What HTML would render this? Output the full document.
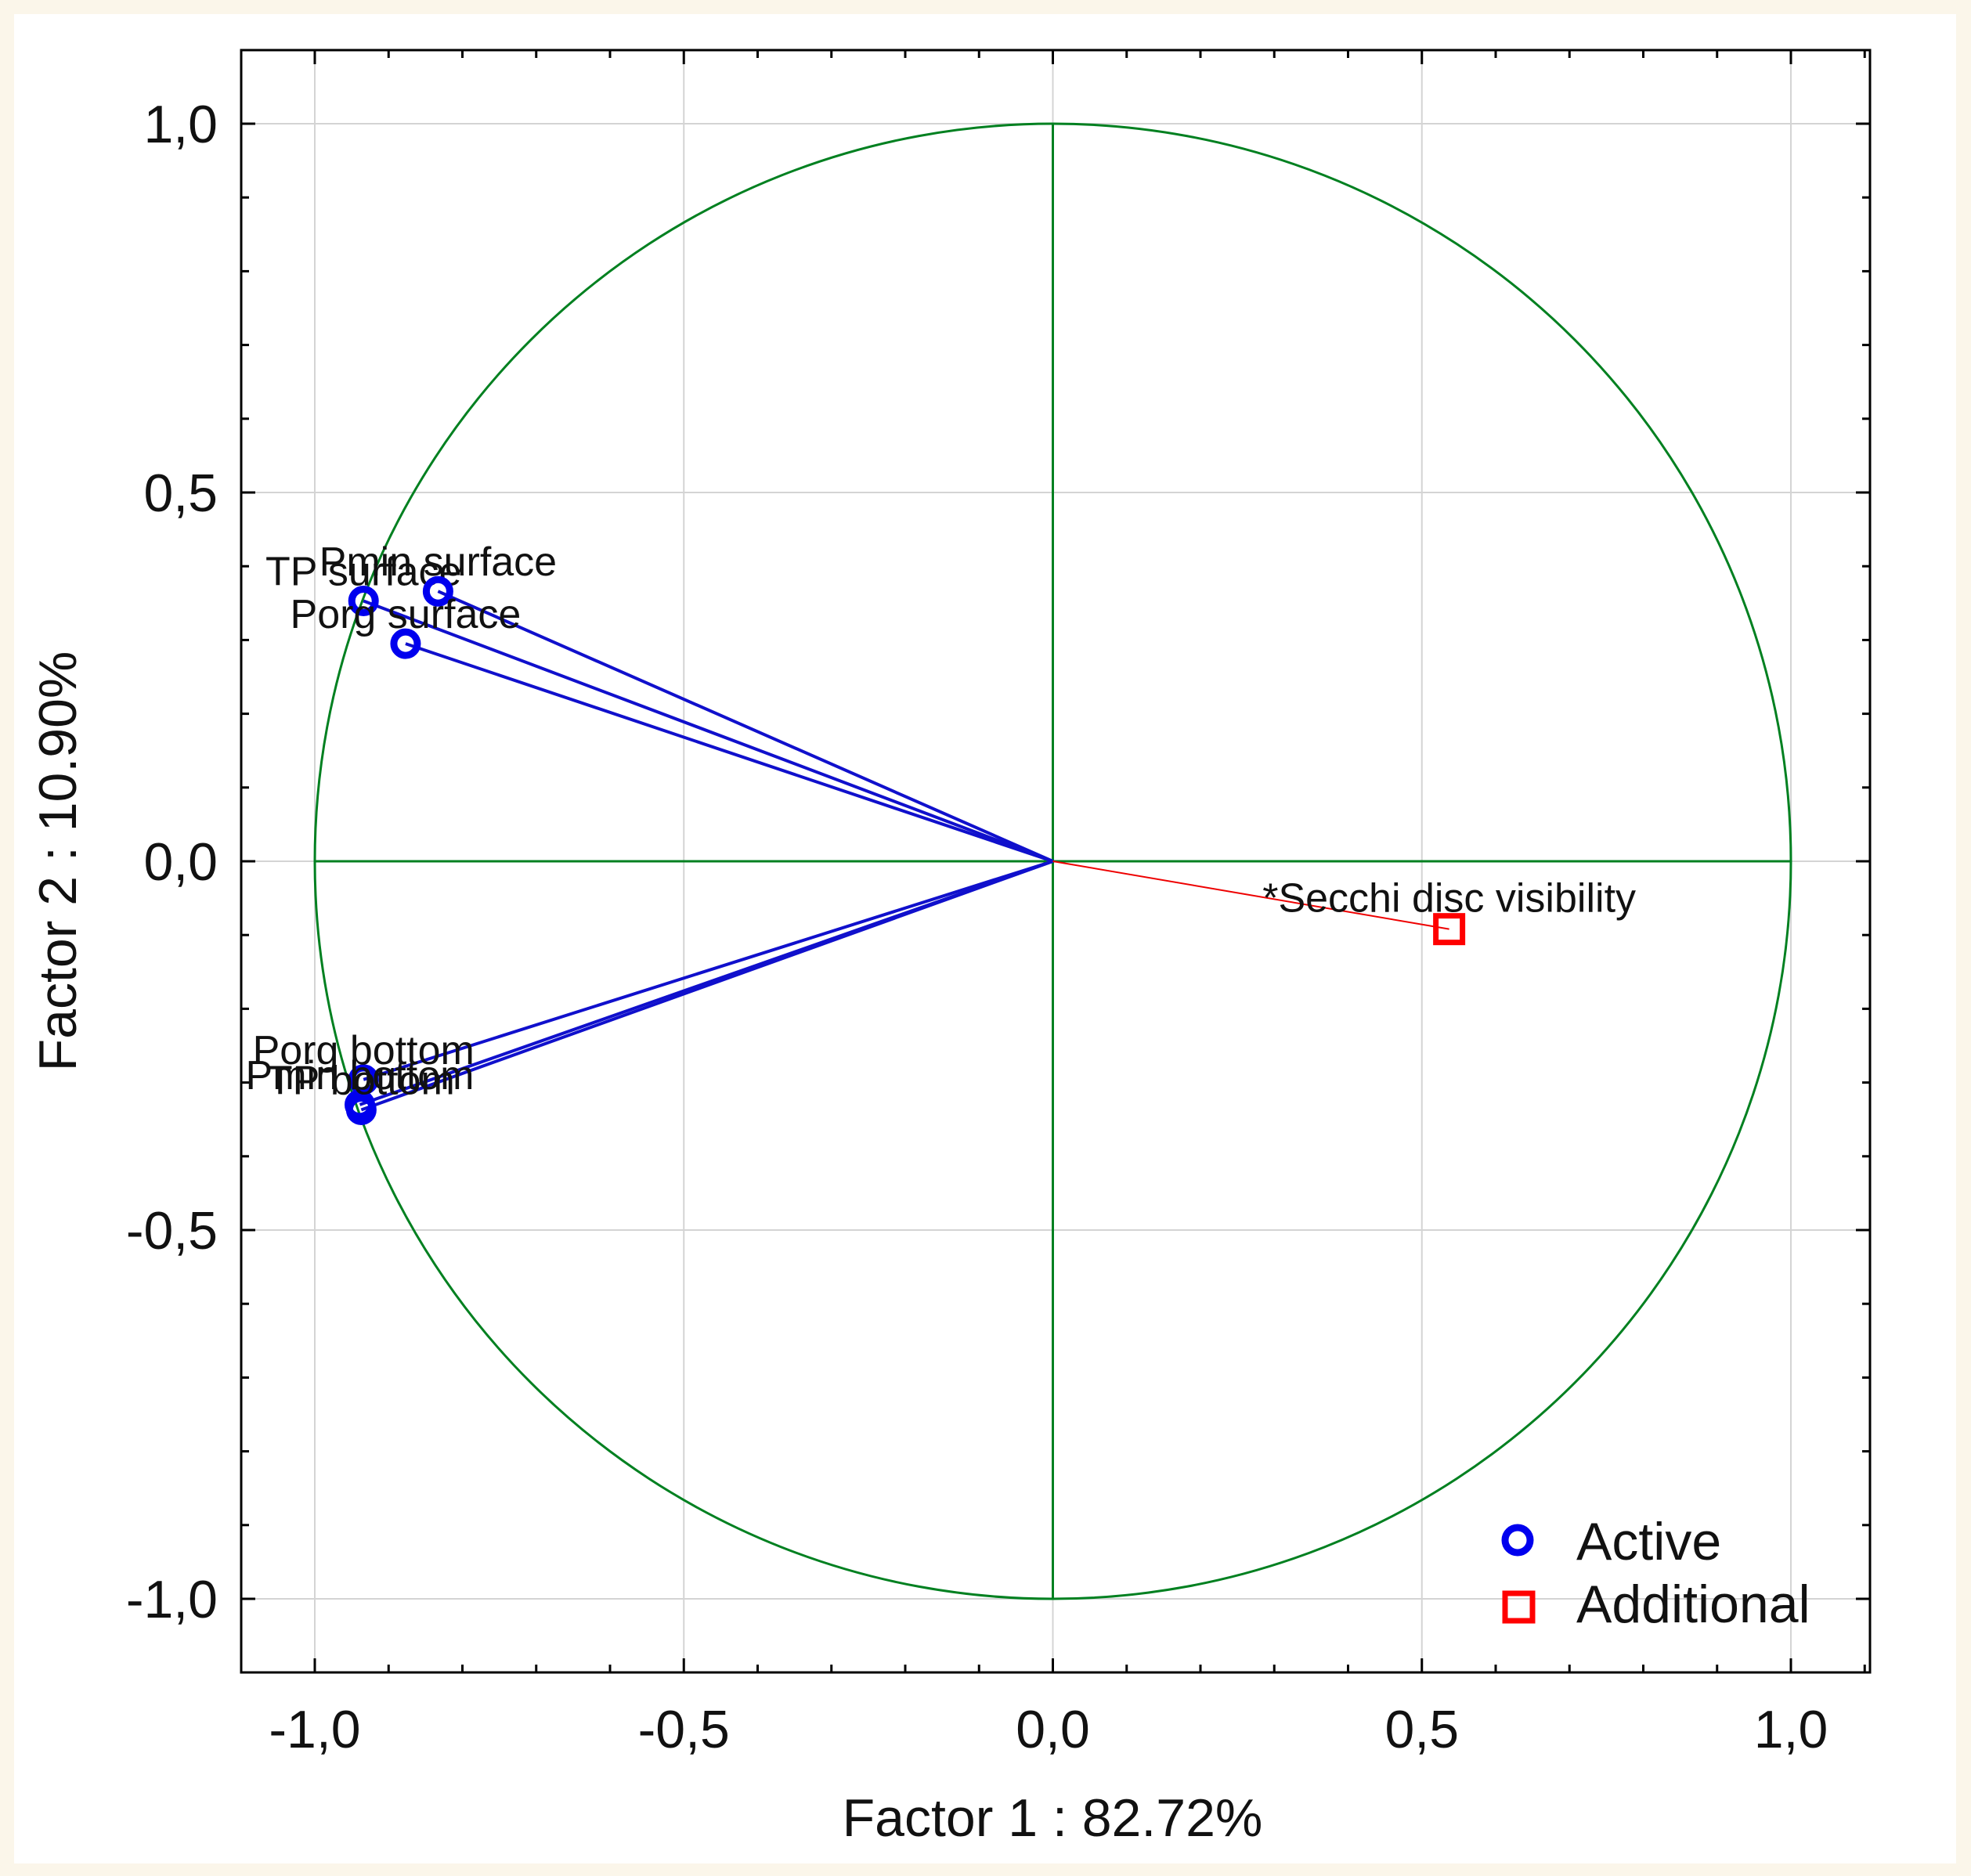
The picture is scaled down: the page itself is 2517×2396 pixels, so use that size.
<!DOCTYPE html>
<html><head><meta charset="utf-8"><style>
html,body{margin:0;padding:0;background:#fbf6ea;}
svg{display:block;font-family:"Liberation Sans",Arial,sans-serif;}
</style></head><body>
<svg id="chart" width="2517" height="2396" viewBox="0 0 2517 2396">
<rect x="18" y="18" width="2480" height="2362" fill="#ffffff"/>
<g id="grid"></g>
<g id="axes"></g>
<g id="marks"></g>
<text x="1344" y="2345" font-size="68" text-anchor="middle" fill="#111">Factor 1 : 82.72%</text>
<text transform="translate(97,1100) rotate(-90)" font-size="68" text-anchor="middle" fill="#111">Factor 2 : 10.90%</text>
<g>
<circle cx="1938" cy="1967" r="16" fill="none" stroke="#0000ee" stroke-width="9"/>
<text x="2013" y="1992" font-size="68" fill="#111">Active</text>
<rect x="1922" y="2035" width="35" height="35" fill="none" stroke="#ff0000" stroke-width="7"/>
<text x="2013" y="2072" font-size="68" fill="#111">Additional</text>
</g>
</svg>
<script>
const activeNames=["TP surface","Pmin surface","Porg surface","Porg bottom","Pmin bottom","TP bottom"];
const activeX=[-0.934,-0.833,-0.877,-0.934,-0.939,-0.937];
const activeY=[0.353,0.366,0.295,-0.296,-0.330,-0.337];
const addNames=["*Secchi disc visibility"];
const addX=[0.537];
const addY=[-0.092];
const tickVals=[-1.0,-0.5,0.0,0.5,1.0];
const tickLabels=["-1,0","-0,5","0,0","0,5","1,0"];

const NS="http://www.w3.org/2000/svg";
const X0=1344.5,UX=942.5,Y0=1100,UY=942;
const L=308,R=2388,T=64,B=2136;
const sx=v=>X0+v*UX, sy=v=>Y0-v*UY;
function mk(tag,attrs,parent){const e=document.createElementNS(NS,tag);for(const k in attrs)e.setAttribute(k,attrs[k]);parent.appendChild(e);return e;}
const grid=document.getElementById('grid'),axes=document.getElementById('axes'),marks=document.getElementById('marks');

tickVals.forEach((v,i)=>{
  const gx=mk('line',{x1:sx(v),x2:sx(v),y1:T,y2:B,stroke:'#d4d4d4','stroke-width':2},grid);
  
  
  const gy=mk('line',{x1:L,x2:R,y1:sy(v),y2:sy(v),stroke:'#d4d4d4','stroke-width':2},grid);
  
  
  const tx=mk('text',{x:sx(v),y:2232,'font-size':68,'text-anchor':'middle',fill:'#111'},axes);
  tx.textContent=tickLabels[i];
  
  
  const ty=mk('text',{x:278,y:sy(v)+24,'font-size':68,'text-anchor':'end',fill:'#111'},axes);
  ty.textContent=tickLabels[i];
  
  
});
for(let k=-11;k<=11;k++){
  const v=k/10, major=(k%5===0), len=major?18:10;
  if(sx(v)>L&&sx(v)<R){
    mk('line',{x1:sx(v),x2:sx(v),y1:B,y2:B-len,stroke:'#000','stroke-width':3},axes);
    mk('line',{x1:sx(v),x2:sx(v),y1:T,y2:T+len,stroke:'#000','stroke-width':3},axes);
  }
  if(sy(v)>T&&sy(v)<B){
    mk('line',{x1:L,x2:L+len,y1:sy(v),y2:sy(v),stroke:'#000','stroke-width':3},axes);
    mk('line',{x1:R,x2:R-len,y1:sy(v),y2:sy(v),stroke:'#000','stroke-width':3},axes);
  }
}
const box=mk('rect',{x:L,y:T,width:R-L,height:B-T,fill:'none',stroke:'#000','stroke-width':3},axes);



const circ=mk('ellipse',{cx:sx(0),cy:sy(0),rx:UX,ry:UY,fill:'none',stroke:'#008020','stroke-width':3},marks);


const hx=mk('line',{x1:sx(-1),x2:sx(1),y1:sy(0),y2:sy(0),stroke:'#008020','stroke-width':3},marks);


const vy=mk('line',{x1:sx(0),x2:sx(0),y1:sy(1),y2:sy(-1),stroke:'#008020','stroke-width':3},marks);



activeX.forEach((v,i)=>{
  const ln=mk('line',{x1:sx(0),y1:sy(0),x2:sx(v),y2:sy(activeY[i]),stroke:'#1010cc','stroke-width':4},marks);
  
  
});
activeX.forEach((v,i)=>{
  const c=mk('circle',{cx:sx(v),cy:sy(activeY[i]),r:15,fill:'none',stroke:'#0000ee','stroke-width':9},marks);
  
  
  const t=mk('text',{x:sx(v),y:sy(activeY[i])-20,'font-size':52,'text-anchor':'middle',fill:'#111'},marks);
  t.textContent=activeNames[i];
  
  
});
addX.forEach((v,i)=>{
  const ln=mk('line',{x1:sx(0),y1:sy(0),x2:sx(v),y2:sy(addY[i]),stroke:'#ee0000','stroke-width':2},marks);
  
  
  const r=mk('rect',{x:sx(v)-17,y:sy(addY[i])-17,width:34,height:34,fill:'none',stroke:'#ff0000','stroke-width':7},marks);
  
  
  const t=mk('text',{x:sx(v),y:sy(addY[i])-22,'font-size':52,'text-anchor':'middle',fill:'#111'},marks);
  t.textContent=addNames[i];
  
  
});
</script>
</body></html>
